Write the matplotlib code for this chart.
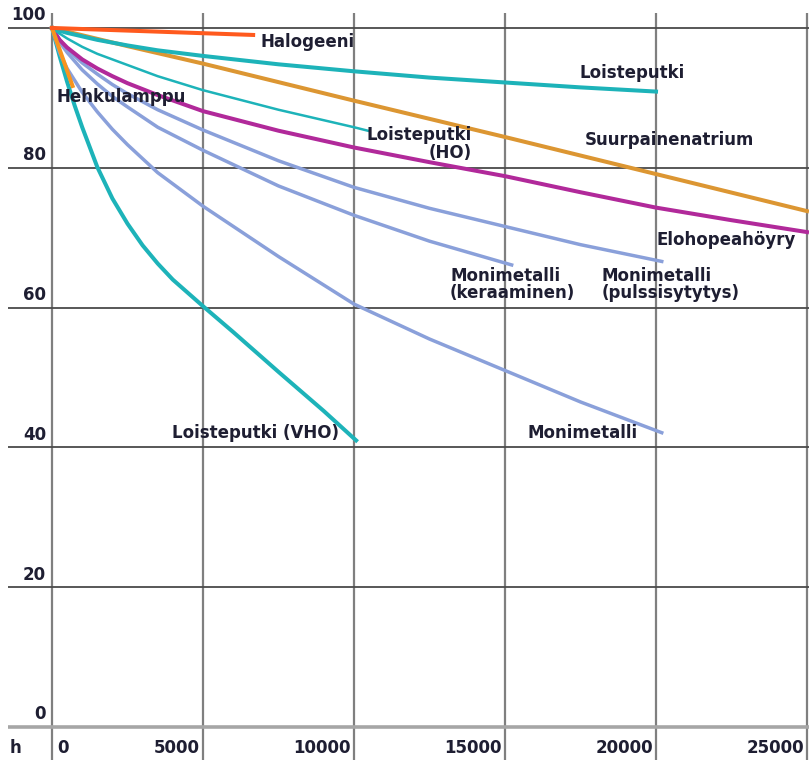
import matplotlib.pyplot as plt

plt.rcParams['font.family'] = ['DejaVu Sans']

# burning hours vs. remaining luminous flux (%)
x_ticks = [0, 5000, 10000, 15000, 20000, 25000]
y_ticks = [0, 20, 40, 60, 80, 100]

halogeeni_h = [0, 6660]
halogeeni_v = [100, 99.0]

hehku_h = [0, 680]
hehku_v = [100, 91.7]

loiste_h = [0, 250, 500, 1000, 1500, 2500, 3500, 5000, 7500, 10000, 12500, 15000, 17500, 20000]
loiste_v = [100, 99.6, 99.3, 98.8, 98.3, 97.5, 96.8, 96.0, 94.8, 93.8, 92.9, 92.2, 91.5, 90.9]

loiste_ho_h = [0, 250, 500, 1000, 1500, 2500, 3500, 5000, 7500, 10000, 10460]
loiste_ho_v = [100, 99.2, 98.5, 97.3, 96.3, 94.7, 93.1, 91.1, 88.3, 85.8, 85.3]

loiste_vho_h = [0, 250, 500, 750, 1000, 1500, 2000, 2500, 3000, 3500, 4000, 5000, 6000, 7500, 9000, 10070]
loiste_vho_v = [100, 96.0, 92.3, 88.9, 85.8, 80.1, 75.6, 72.0, 68.9, 66.3, 64.0, 60.2, 56.5, 50.8, 45.2, 41.0]

suurpaine_h = [0, 2500, 5000, 10000, 15000, 20000, 25000]
suurpaine_v = [100, 97.4, 94.9, 89.6, 84.4, 79.1, 73.8]

elohopea_h = [0, 250, 500, 1000, 1500, 2000, 2500, 3500, 5000, 7500, 10000, 12500, 15000, 17500, 20000, 22500, 25000]
elohopea_v = [100, 98.3, 97.2, 95.5, 94.2, 93.1, 92.1, 90.4, 88.1, 85.3, 82.9, 80.8, 78.8, 76.5, 74.3, 72.5, 70.8]

pulssi_h = [0, 250, 500, 1000, 1500, 2000, 2500, 3500, 5000, 7500, 10000, 12500, 15000, 17500, 20190]
pulssi_v = [100, 98.3, 97.0, 95.0, 93.4, 91.9, 90.6, 88.3, 85.4, 81.0, 77.2, 74.2, 71.6, 69.0, 66.6]

keraam_h = [0, 250, 500, 1000, 1500, 2000, 2500, 3500, 5000, 7500, 10000, 12500, 15220]
keraam_v = [100, 98.0, 96.5, 94.0, 92.0, 90.2, 88.7, 85.8, 82.5, 77.4, 73.2, 69.5, 66.1]

monimet_h = [0, 250, 500, 1000, 1500, 2000, 2500, 3500, 5000, 7500, 10000, 12500, 15000, 17500, 20190]
monimet_v = [100, 96.5, 94.2, 90.8, 88.0, 85.5, 83.3, 79.3, 74.5, 67.3, 60.5, 55.5, 51.0, 46.5, 42.1]

fig = plt.figure(figsize=(8.09, 7.6), dpi=100)
ax = fig.add_axes([0, 0, 1, 1])
ax.set_xlim(-1722, 25066)
ax.set_ylim(-4.72, 104.0)
ax.axis('off')

# grid reaching past the plot area like in the print original
ax.vlines(x_ticks, -4.72, 102.1, color='#7f7f7f', lw=1.6, zorder=1)
ax.hlines(y_ticks[1:], -1457, 25066, color='#4a4a4a', lw=1.3, zorder=1)
ax.hlines(0, -1457, 25066, color='#a6a6a6', lw=2.6, zorder=1)

teal = '#1db3b9'
blue = '#8aa0da'
ax.plot(loiste_vho_h, loiste_vho_v, color=teal, lw=2.9)
ax.plot(monimet_h, monimet_v, color=blue, lw=2.5)
ax.plot(keraam_h, keraam_v, color=blue, lw=2.5)
ax.plot(pulssi_h, pulssi_v, color=blue, lw=2.5)
ax.plot(elohopea_h, elohopea_v, color='#b1299a', lw=2.9)
ax.plot(loiste_ho_h, loiste_ho_v, color=teal, lw=1.8)
ax.plot(suurpaine_h, suurpaine_v, color='#dc9632', lw=2.9)
ax.plot(loiste_h, loiste_v, color=teal, lw=2.9)
ax.plot(hehku_h, hehku_v, color='#f7941e', lw=2.9)
ax.plot(halogeeni_h, halogeeni_v, color='#ff5a1e', lw=2.9)

tc = '#1e1e32'
kw = dict(color=tc, fontsize=12, fontweight='bold', va='center', zorder=5)
ax.text(6890, 98.0, 'Halogeeni', ha='left', **kw)
ax.text(17480, 93.6, 'Loisteputki', ha='left', **kw)
ax.text(13900, 83.4, 'Loisteputki\n(HO)', ha='right', multialignment='right', linespacing=0.95, **kw)
ax.text(17650, 84.0, 'Suurpainenatrium', ha='left', **kw)
ax.text(20030, 69.7, 'Elohopeahöyry', ha='left', **kw)
ax.text(165, 90.1, 'Hehkulamppu', ha='left', **kw)
ax.text(13180, 63.3, 'Monimetalli\n(keraaminen)', ha='left', linespacing=0.95, **kw)
ax.text(18210, 63.3, 'Monimetalli\n(pulssisytytys)', ha='left', linespacing=0.95, **kw)
ax.text(3970, 42.0, 'Loisteputki (VHO)', ha='left', **kw)
ax.text(15730, 42.0, 'Monimetalli', ha='left', **kw)

# tick labels
for v in y_ticks:
    ax.text(-200, v + 1.8, str(v), ha='right', **kw)
for h in x_ticks:
    if h == 0:
        ax.text(165, -3.0, '0', ha='left', **kw)
    else:
        ax.text(h - 100, -3.0, str(h), ha='right', **kw)
ax.text(-1225, -3.0, 'h', ha='center', **kw)

plt.savefig('out.png', dpi=100)
